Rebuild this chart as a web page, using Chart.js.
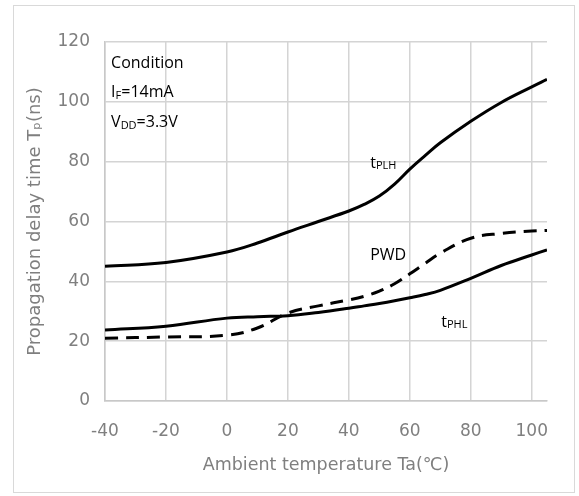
<!DOCTYPE html>
<html>
<head>
<meta charset="utf-8">
<script src="https://cdn.jsdelivr.net/npm/chart.js@4"></script>
<style>
  html, body { margin: 0; padding: 0; background: #fff; }
  #wrap { position: relative; width: 579px; height: 496px; }
  #frame { position: absolute; left: 13px; top: 5px; width: 562px; height: 488px; border: 1px solid #d9d9d9; box-sizing: border-box; }
  canvas { position: absolute; left: 0; top: 0; }
</style>
</head>
<body>
<div id="wrap">
  <div id="frame"></div>
  <canvas id="delayChart" width="579" height="496"></canvas>
</div>
<script>
// ambient temperature (°C)
const temps = [-40, -20, 0, 10, 20, 30, 40, 45, 50, 55, 60, 65, 70, 80, 90, 100, 105];
// propagation delay (ns)
const tPLH = [45, 46.3, 49.8, 52.8, 56.5, 60, 63.5, 65.7, 68.5, 72.5, 77.5, 82, 86.3, 93.5, 99.8, 105, 107.5];
const tPHL = [23.7, 25, 27.7, 28.2, 28.5, 29.6, 31, 31.8, 32.6, 33.5, 34.5, 35.6, 37, 41, 45.3, 48.8, 50.5];
const PWD = [21, 21.4, 22, 24.4, 29.4, 31.8, 33.8, 35, 36.7, 39.2, 42.5, 46, 49.4, 54.4, 56, 56.8, 57];

const xTicks = [-40, -20, 0, 20, 40, 60, 80, 100];
const yTicks = [0, 20, 40, 60, 80, 100, 120];

const noteFont = '"Open Sans", "Noto Sans", sans-serif';
const axisFont = '"DejaVu Sans", sans-serif';

function pts(ys) {
  return temps.map((t, i) => ({ x: t, y: ys[i] }));
}

// text labels on the plot, placed in data units: [x, y, parts]
// each part: [text, isSubscript]
const notes = [
  [-38, 113, [['Condition', false]]],
  [-38, 103, [['I', false], ['F', true], ['=14mA', false]]],
  [-38, 93, [['V', false], ['DD', true], ['=3.3V', false]]],
  [47, 79.5, [['t', false], ['PLH', true]]],
  [47, 48.8, [['PWD', false]]],
  [70.3, 26.3, [['t', false], ['PHL', true]]]
];

const notePlugin = {
  id: 'notes',
  afterDatasetsDraw(chart) {
    const { ctx, scales: { x, y } } = chart;
    ctx.save();
    ctx.fillStyle = '#000';
    ctx.textBaseline = 'middle';
    ctx.textAlign = 'left';
    notes.forEach(([nx, ny, parts]) => {
      let px = x.getPixelForValue(nx);
      const py = y.getPixelForValue(ny);
      parts.forEach(([txt, sub]) => {
        ctx.font = (sub ? '11px ' : '16px ') + noteFont;
        ctx.fillText(txt, px, sub ? py + 3 : py);
        px += ctx.measureText(txt).width;
      });
    });
    ctx.restore();
  }
};

const ctx = document.getElementById('delayChart').getContext('2d');

new Chart(ctx, {
  type: 'line',
  data: {
    datasets: [
      { label: 'tPLH', data: pts(tPLH), borderColor: '#000', borderWidth: 3 },
      { label: 'tPHL', data: pts(tPHL), borderColor: '#000', borderWidth: 3 },
      { label: 'PWD', data: pts(PWD), borderColor: '#000', borderWidth: 3, borderDash: [13, 8] }
    ]
  },
  options: {
    responsive: false,
    animation: false,
    layout: { padding: { left: 25, right: 32, top: 42, bottom: 18 } },
    elements: {
      point: { radius: 0 },
      line: { tension: 0.4, fill: false }
    },
    plugins: {
      legend: { display: false },
      tooltip: { enabled: false }
    },
    scales: {
      x: {
        type: 'linear',
        min: -40,
        max: 105,
        afterBuildTicks(scale) { scale.ticks = xTicks.map(v => ({ value: v })); },
        afterFit(scale) { scale.height = 77; },
        grid: { color: '#d4d4d4', lineWidth: 1.5, drawTicks: false },
        border: { color: '#c8c8c8', width: 1.5 },
        ticks: { color: '#7f7f7f', padding: 20, font: { family: axisFont, size: 17 } },
        title: {
          display: true,
          text: 'Ambient temperature Ta(℃)',
          color: '#7f7f7f',
          padding: { top: 0, bottom: 2 },
          font: { family: axisFont, size: 17.5 }
        }
      },
      y: {
        type: 'linear',
        min: 0,
        max: 120,
        afterBuildTicks(scale) { scale.ticks = yTicks.map(v => ({ value: v })); },
        afterFit(scale) { scale.width = 80; },
        grid: { color: '#d4d4d4', lineWidth: 1.5, drawTicks: false },
        border: { color: '#c8c8c8', width: 1.5 },
        ticks: { color: '#7f7f7f', padding: 15, font: { family: axisFont, size: 17 } },
        title: {
          display: true,
          text: 'Propagation delay time Tₚ(ns)',
          color: '#7f7f7f',
          padding: { top: 0, bottom: 0 },
          font: { family: axisFont, size: 18 }
        }
      }
    }
  },
  plugins: [notePlugin]
});
</script>
</body>
</html>
